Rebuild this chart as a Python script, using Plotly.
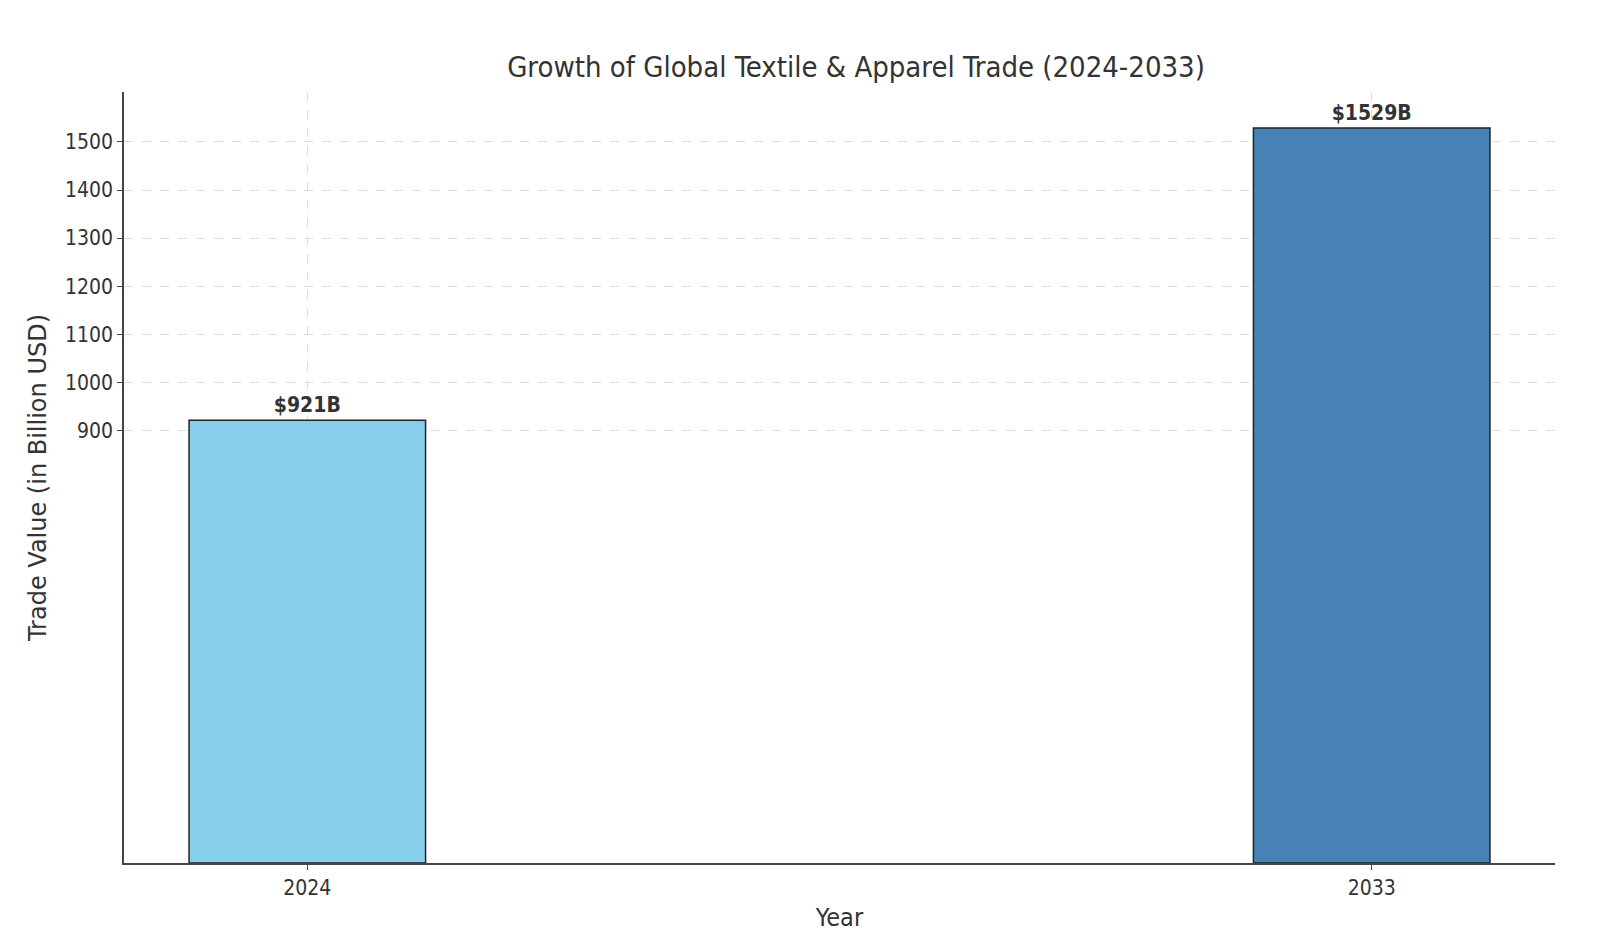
import plotly.graph_objects as go

# Data
years = [2024, 2033]
values = [921, 1529]
labels = ["$921B", "$1529B"]
colors = ["#87CEEB", "#4682B4"]
y_ticks = [900, 1000, 1100, 1200, 1300, 1400, 1500]

font_main = "DejaVu Sans Condensed, DejaVu Sans"

fig = go.Figure()
fig.add_trace(go.Bar(
    x=years, y=values, width=2,
    marker=dict(color=colors, line=dict(color="#222222", width=1.5)),
    text=labels, textposition="outside", cliponaxis=False,
    textfont=dict(family=font_main, size=21, color="#333333"),
    texttemplate="<b>%{text}</b>",
))

fig.update_layout(
    width=1600, height=941,
    plot_bgcolor="white", paper_bgcolor="white",
    margin=dict(l=116, r=53, t=84, b=86),
    showlegend=False,
    title=dict(text="Growth of Global Textile & Apparel Trade (2024-2033)",
               x=0.53, xanchor="center", y=0.937, yanchor="middle",
               font=dict(family=font_main, size=29, color="#333333")),
)
fig.update_xaxes(
    range=[2022.45, 2034.55], tickvals=years, ticktext=[str(y) for y in years],
    showline=True, linecolor="#444444", linewidth=1.5, mirror=False,
    ticks="outside", ticklen=5, tickcolor="#444444",
    showgrid=True, gridcolor="#dddddd", griddash="dash", gridwidth=1,
    tickfont=dict(family=font_main, size=21, color="#333333"),
    title=dict(text="Year", font=dict(family=font_main, size=25, color="#333333"), standoff=10),
)
fig.update_yaxes(
    range=[0, 1604], tickvals=y_ticks,
    showline=True, linecolor="#444444", linewidth=1.5,
    ticks="outside", ticklen=5, tickcolor="#444444",
    showgrid=True, gridcolor="#dddddd", griddash="dash", gridwidth=1,
    zeroline=False,
    tickfont=dict(family=font_main, size=21, color="#333333"),
    title=dict(text="Trade Value (in Billion USD)",
               font=dict(family="DejaVu Sans", size=24, color="#333333"), standoff=12),
)

fig.write_html("out.html")
